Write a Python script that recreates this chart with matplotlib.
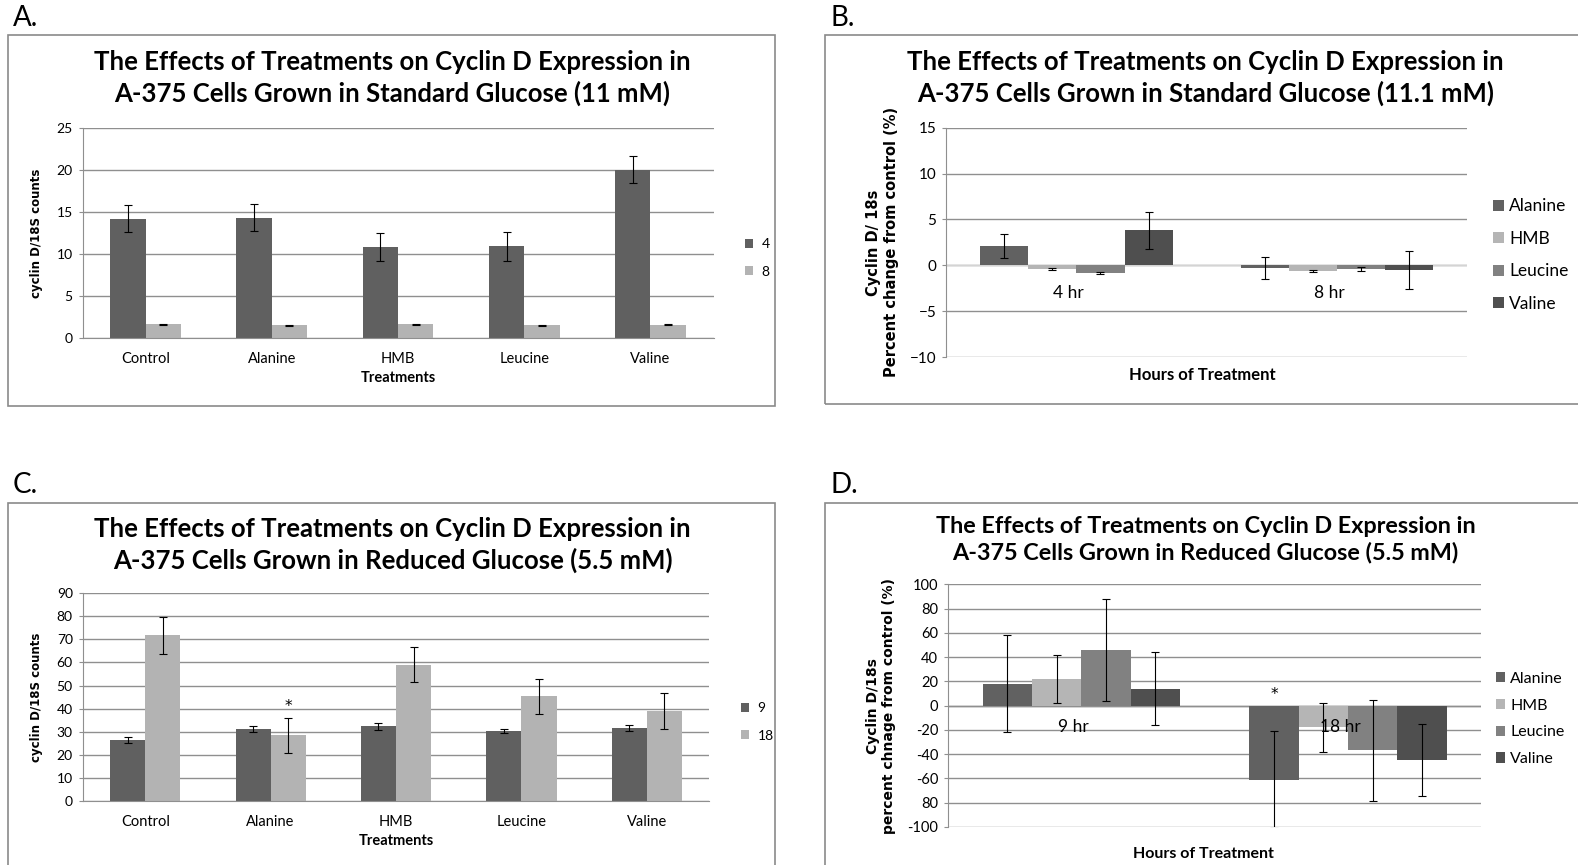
import matplotlib
matplotlib.use("Agg")
import matplotlib.pyplot as plt
import numpy as np
from matplotlib.patches import Rectangle

# panels A / C: absolute counts per treatment
treatments = ["Control", "Alanine", "HMB", "Leucine", "Valine"]

std_4h = [14.2, 14.3, 10.8, 10.9, 20.0]
std_4h_err = [1.6, 1.6, 1.7, 1.7, 1.6]
std_8h = [1.6, 1.5, 1.6, 1.5, 1.55]
std_8h_err = [0.05, 0.05, 0.05, 0.05, 0.05]

red_9h = [26.5, 31.3, 32.3, 30.3, 31.7]
red_9h_err = [1.3, 1.3, 1.5, 1.0, 1.3]
red_18h = [71.8, 28.4, 59.0, 45.4, 38.9]
red_18h_err = [8.0, 7.7, 7.6, 7.6, 7.9]

# panels B / D: percent change from control
amino = ["Alanine", "HMB", "Leucine", "Valine"]
hours_std = ["4 hr", "8 hr"]
pct_std = {
    "Alanine": [2.1, -0.3],
    "HMB": [-0.4, -0.6],
    "Leucine": [-0.8, -0.4],
    "Valine": [3.8, -0.5],
}
pct_std_err = {
    "Alanine": [1.3, 1.2],
    "HMB": [0.1, 0.12],
    "Leucine": [0.12, 0.2],
    "Valine": [2.05, 2.1],
}
hours_red = ["9 hr", "18 hr"]
pct_red = {
    "Alanine": [18, -61],
    "HMB": [22, -18],
    "Leucine": [46, -37],
    "Valine": [14, -45],
}
pct_red_err = {
    "Alanine": [40, 40],
    "HMB": [20, 20],
    "Leucine": [42, 42],
    "Valine": [30, 30],
}
d_ticklabels = ["-100", "80", "-60", "-40", "-20", "0", "20", "40", "60", "80", "100"]

DARK = "#606060"
LIGHT = "#b3b3b3"
amino_colors = {"Alanine": "#616161", "HMB": "#b5b5b5", "Leucine": "#818181", "Valine": "#4f4f4f"}
GRID = "#8f8f8f"
EDGE = "#8a8a8a"

SANS = ["Lato", "DejaVu Sans"]

W, H = 1568.0, 860.0
fig = plt.figure(figsize=(15.78, 8.65), dpi=100)


def box(l, t, r, b):
    return [l / W, 1 - b / H, (r - l) / W, (b - t) / H]


def frame(l, t, r, b, letter, lx, ly):
    fig.patches.append(Rectangle((l / W, 1 - b / H), (r - l) / W, (b - t) / H,
                                 transform=fig.transFigure, fill=False,
                                 edgecolor=EDGE, lw=1.2))
    fig.text(lx / W, 1 - ly / H, letter, fontsize=20, family=SANS, va="center")


def title(cx, y1, y2, l1, l2, size=18.5):
    fig.text(cx / W, 1 - y1 / H, l1, fontsize=size, family=SANS,
             weight="bold", ha="center", va="center")
    fig.text(cx / W, 1 - y2 / H, l2, fontsize=size, family=SANS,
             weight="bold", ha="center", va="center")


def style_axes(ax, ylim, step, size=10):
    ax.set_ylim(*ylim)
    ax.set_yticks(np.arange(ylim[0], ylim[1] + step / 2, step))
    ax.yaxis.grid(True, color=GRID, lw=1)
    ax.set_axisbelow(True)
    for s in ["top", "right"]:
        ax.spines[s].set_visible(False)
    ax.spines["left"].set_color(GRID)
    ax.spines["bottom"].set_color(GRID)
    ax.tick_params(axis="y", length=3, color=GRID, labelsize=size, pad=4)
    ax.tick_params(axis="x", length=0, labelsize=10.5, pad=10)
    for lab in ax.get_yticklabels() + ax.get_xticklabels():
        lab.set_family(SANS)


def grouped_counts(ax, a, a_err, b, b_err, labels, ylim, step):
    x = np.arange(len(treatments))
    w = 0.28
    ekw = dict(ecolor="black", elinewidth=0.8, capsize=3, capthick=0.8)
    ax.bar(x - w / 2, a, w, color=DARK, label=labels[0], zorder=2, yerr=a_err, error_kw=ekw)
    ax.bar(x + w / 2, b, w, color=LIGHT, label=labels[1], zorder=2, yerr=b_err, error_kw=ekw)
    ax.set_xlim(-0.5, len(treatments) - 0.5)
    ax.set_xticks(x)
    ax.set_xticklabels(treatments)
    style_axes(ax, ylim, step)
    ax.set_xlabel("Treatments", fontsize=10.5, weight="bold", family=SANS, labelpad=4)
    ax.set_ylabel("cyclin D/18S counts", fontsize=8.5, weight="bold", labelpad=10)
    ax.legend(loc="center left", bbox_to_anchor=(1.03, 0.38), frameon=False,
              handlelength=0.6, handleheight=0.6, handletextpad=0.6,
              labelspacing=1.1, prop=dict(family=SANS, size=10))
    return x, w


def grouped_pct(ax, hours, vals, errs, ylim, step, lab_y, leg_space, leg_size, leg_x):
    x = np.arange(len(hours))
    w = 0.185
    ekw = dict(ecolor="black", elinewidth=0.8, capsize=3, capthick=0.8)
    for i, name in enumerate(amino):
        ax.bar(x + (i - 1.5) * w, vals[name], w, color=amino_colors[name], label=name,
               zorder=2, yerr=errs[name], error_kw=ekw)
    ax.set_xlim(-0.5, len(hours) - 0.5)
    ax.set_xticks([])
    style_axes(ax, ylim, step, size=11)
    ax.spines["bottom"].set_visible(False)
    ax.axhline(0, color="#d4d4d4", lw=1, zorder=1)
    for xi, h in zip(x, hours):
        ax.text(xi - 0.03, lab_y, h, ha="center", va="center", fontsize=12.5,
                family=SANS, zorder=3)
    ax.legend(loc="center left", bbox_to_anchor=(leg_x, 0.445), frameon=False,
              handlelength=0.6, handleheight=0.6, handletextpad=0.3,
              labelspacing=leg_space, prop=dict(family=SANS, size=leg_size))
    return x, w


# A
frame(8, 35, 770, 404, "A.", 13, 18)
title(390, 62, 93,
      "The Effects of Treatments on Cyclin D Expression in",
      "A-375 Cells Grown in Standard Glucose (11 mM)")
axA = fig.add_axes(box(82, 127, 709, 336))
grouped_counts(axA, std_4h, std_4h_err, std_8h, std_8h_err, ["4", "8"], (0, 25), 5)

# B
frame(820, 35, 1600, 402, "B.", 825, 18)
title(1198, 62, 93,
      "The Effects of Treatments on Cyclin D Expression in",
      "A-375 Cells Grown in Standard Glucose (11.1 mM)")
axB = fig.add_axes(box(940, 127, 1458, 355))
grouped_pct(axB, hours_std, pct_std, pct_std_err, (-10, 15), 5, -3.0, 0.95, 12.5, 1.02)
axB.set_ylabel("Cyclin D/ 18s\nPercent change from control (%)", fontsize=10.5,
               weight="bold", labelpad=8, linespacing=1.25)
fig.text(1195 / W, 1 - 373 / H, "Hours of Treatment", fontsize=12, weight="bold",
         family=SANS, ha="center", va="center")

# C
frame(8, 500, 770, 880, "C.", 13, 482)
title(390, 526, 557,
      "The Effects of Treatments on Cyclin D Expression in",
      "A-375 Cells Grown in Reduced Glucose (5.5 mM)")
axC = fig.add_axes(box(82, 590, 705, 796))
xc, wc = grouped_counts(axC, red_9h, red_9h_err, red_18h, red_18h_err, ["9", "18"], (0, 90), 10)
axC.text(xc[1] + wc / 2, red_18h[1] + red_18h_err[1] + 5, "*", ha="center", va="center",
         fontsize=11)

# D
frame(820, 500, 1600, 880, "D.", 825, 482)
title(1198, 523, 549,
      "The Effects of Treatments on Cyclin D Expression in",
      "A-375 Cells Grown in Reduced Glucose (5.5 mM)", size=16.8)
axD = fig.add_axes(box(942, 581, 1472, 822))
xd, wd = grouped_pct(axD, hours_red, pct_red, pct_red_err, (-100, 100), 20, -18, 0.8, 11.5, 1.0)
axD.set_yticklabels(d_ticklabels, family=SANS, fontsize=10.5)
axD.axhline(0, color=GRID, lw=1, zorder=1)
axD.text(xd[1] - 1.5 * wd, 9, "*", ha="center", va="center", fontsize=11)
axD.set_ylabel("Cyclin D/18s\npercent chnage from control (%)", fontsize=10,
               weight="bold", labelpad=8, linespacing=1.25)
fig.text(1196 / W, 1 - 849 / H, "Hours of Treatment", fontsize=11.5, weight="bold",
         family=SANS, ha="center", va="center")

fig.savefig("out.png", dpi=100, facecolor="white")
